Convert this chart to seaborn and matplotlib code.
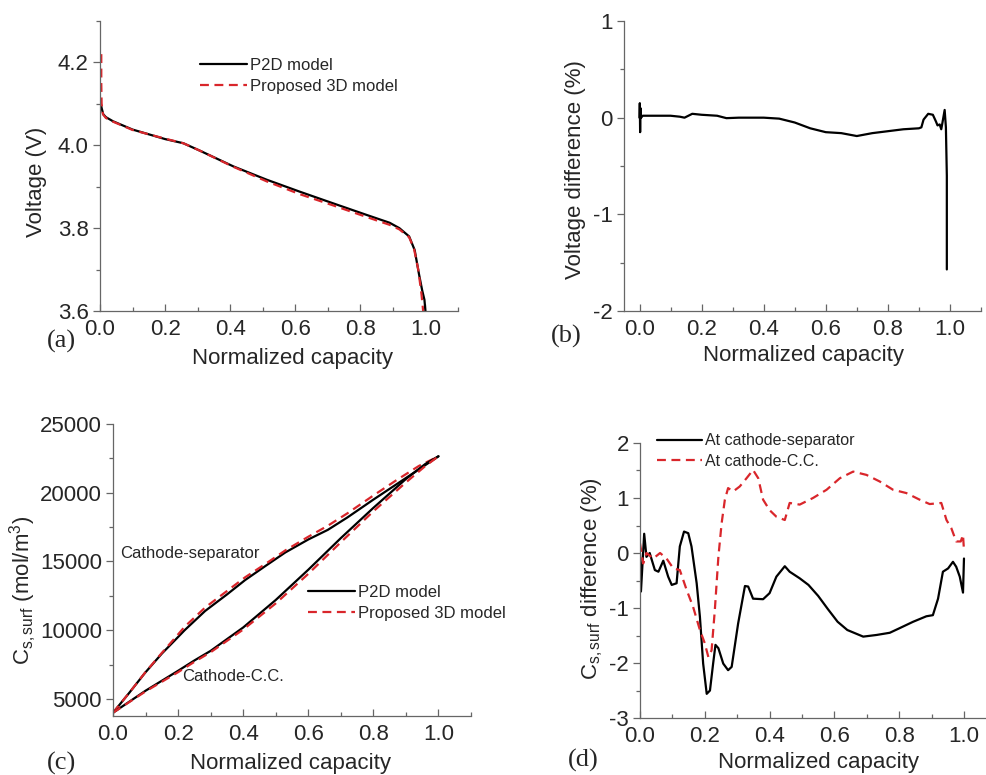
import matplotlib
matplotlib.use("Agg")
import matplotlib.pyplot as plt
from matplotlib.ticker import MultipleLocator, FormatStrFormatter
import seaborn as sns

# (a) discharge voltage
cap_p2d = [0.003, 0.005, 0.01, 0.018, 0.04, 0.1, 0.2, 0.256, 0.307, 0.41, 0.512, 0.614,
           0.716, 0.819, 0.89, 0.92, 0.95, 0.967, 0.98, 0.99, 0.997, 1.0]
volt_p2d = [4.10, 4.09, 4.075, 4.068, 4.058, 4.038, 4.015, 4.005, 3.987, 3.949, 3.917, 3.888,
            3.860, 3.832, 3.813, 3.80, 3.78, 3.747, 3.69, 3.65, 3.627, 3.60]
cap_3d = [0.004, 0.004, 0.005, 0.009, 0.018, 0.04, 0.1, 0.2, 0.256, 0.307, 0.41, 0.512,
          0.614, 0.716, 0.819, 0.89, 0.92, 0.95, 0.965, 0.978, 0.988, 0.993]
volt_3d = [4.22, 4.15, 4.10, 4.075, 4.066, 4.057, 4.037, 4.016, 4.005, 3.987, 3.948, 3.913,
           3.882, 3.855, 3.827, 3.808, 3.797, 3.778, 3.75, 3.70, 3.64, 3.60]

# (b) voltage difference
cap_vdiff = [0, 0.001, 0.002, 0.003, 0.005, 0.01, 0.05, 0.1, 0.13, 0.145, 0.17, 0.2, 0.25,
             0.28, 0.32, 0.4, 0.45, 0.5, 0.55, 0.6, 0.65, 0.7, 0.75, 0.8, 0.85, 0.9, 0.908,
             0.915, 0.93, 0.945, 0.955, 0.96, 0.967, 0.972, 0.976, 0.983, 0.987, 0.99, 0.99]
vdiff = [0, 0.15, -0.15, 0.1, 0.0, 0.02, 0.02, 0.02, 0.01, 0.0, 0.04, 0.03, 0.02,
         -0.005, 0.0, 0.0, -0.01, -0.05, -0.11, -0.15, -0.16, -0.19, -0.16, -0.14, -0.12, -0.11, -0.1,
         -0.02, 0.04, 0.03, -0.04, -0.08, -0.07, -0.12, -0.05, 0.08, -0.1, -0.6, -1.57]

# (c) surface concentration
cap_sep = [0, 0.05, 0.098, 0.15, 0.191, 0.22, 0.283, 0.35, 0.406, 0.47, 0.529, 0.6, 0.66,
           0.72, 0.8, 0.87, 0.94, 1.0]
cs_sep_p2d = [4000, 5450, 6890, 8300, 9290, 10000, 11400, 12600, 13650, 14700, 15650, 16600,
              17300, 18200, 19500, 20600, 21700, 22650]
cs_sep_3d = [4000, 5450, 6900, 8350, 9450, 10250, 11650, 12850, 13850, 14850, 15800, 16800,
             17600, 18500, 19800, 20900, 21950, 22650]
cap_cc = [0, 0.1, 0.2, 0.25, 0.3, 0.4, 0.5, 0.6, 0.7, 0.8, 0.9, 0.96, 1.0]
cs_cc_p2d = [4000, 5600, 7050, 7800, 8500, 10200, 12200, 14400, 16700, 18900, 21000, 22100, 22650]
cs_cc_3d = [4000, 5550, 6950, 7700, 8400, 10050, 11950, 14100, 16400, 18650, 20750, 21950, 22650]

# (d) surface concentration difference
cap_dsep = [0, 0.003, 0.013, 0.02, 0.03, 0.046, 0.057, 0.072, 0.087, 0.098, 0.113, 0.123,
            0.136, 0.149, 0.159, 0.175, 0.185, 0.195, 0.206, 0.216, 0.226, 0.233, 0.242, 0.257,
            0.272, 0.283, 0.303, 0.324, 0.334, 0.349, 0.38, 0.40, 0.421, 0.447, 0.462, 0.493,
            0.52, 0.55, 0.58, 0.61, 0.64, 0.689, 0.73, 0.771, 0.80, 0.843, 0.884, 0.904, 0.92,
            0.935, 0.951, 0.966, 0.976, 0.987, 0.997, 1.0]
dcs_sep = [0, -0.7, 0.35, -0.07, 0.0, -0.31, -0.34, -0.14, -0.43, -0.58, -0.55, 0.12,
           0.39, 0.36, 0.12, -0.55, -1.16, -2.01, -2.56, -2.5, -2.0, -1.67, -1.73, -2.01,
           -2.13, -2.07, -1.28, -0.6, -0.61, -0.83, -0.84, -0.73, -0.43, -0.24, -0.34, -0.46,
           -0.58, -0.78, -1.02, -1.25, -1.40, -1.52, -1.49, -1.45, -1.37, -1.25, -1.15, -1.13, -0.83,
           -0.34, -0.28, -0.16, -0.25, -0.43, -0.72, -0.1]
cap_dcc = [0, 0.01, 0.02, 0.041, 0.062, 0.082, 0.103, 0.123, 0.144, 0.164, 0.185, 0.2, 0.211,
           0.221, 0.231, 0.242, 0.252, 0.262, 0.272, 0.288, 0.308, 0.329, 0.349, 0.365, 0.38,
           0.40, 0.421, 0.447, 0.462, 0.493, 0.534, 0.576, 0.617, 0.658, 0.699, 0.74, 0.781,
           0.822, 0.863, 0.894, 0.93, 0.946, 0.961, 0.976, 0.99, 0.997, 1.0]
dcs_cc = [0.18, -0.19, 0.0, -0.1, 0.0, -0.1, -0.28, -0.31, -0.67, -0.98, -1.40, -1.64, -1.89,
          -1.77, -1.04, -0.07, 0.54, 0.97, 1.18, 1.12, 1.21, 1.36, 1.51, 1.36, 0.97,
          0.78, 0.66, 0.60, 0.91, 0.88, 1.0, 1.15, 1.36, 1.48, 1.42, 1.30, 1.15,
          1.09, 0.97, 0.89, 0.91, 0.60, 0.45, 0.21, 0.21, 0.33, 0.05]

RED = "#d9262b"
GRAY = "#666666"
DASH = (0, (4, 2.5))
TICK_FS = 16
LABEL_FS = 16

sns.set_style("ticks")
plt.rcParams["font.family"] = ["Liberation Sans", "DejaVu Sans"]
plt.rcParams["axes.unicode_minus"] = False
plt.rcParams["mathtext.fontset"] = "custom"
plt.rcParams["mathtext.rm"] = "Liberation Sans"
plt.rcParams["mathtext.it"] = "Liberation Sans:italic"


def style_axis(ax):
    for side in ["top", "right"]:
        ax.spines[side].set_visible(False)
    for side in ["left", "bottom"]:
        ax.spines[side].set_color(GRAY)
        ax.spines[side].set_linewidth(0.9)
    ax.xaxis.set_major_locator(MultipleLocator(0.2))
    ax.xaxis.set_minor_locator(MultipleLocator(0.1))
    ax.xaxis.set_major_formatter(FormatStrFormatter("%.1f"))
    ax.tick_params(axis="x", which="both", direction="in", color=GRAY, labelsize=TICK_FS, pad=6)
    ax.tick_params(axis="y", which="both", direction="out", color=GRAY, labelsize=TICK_FS, pad=3)
    ax.tick_params(which="major", length=5, width=0.9)
    ax.tick_params(which="minor", length=3, width=0.9)


def draw(ax, x, y, color, ls, label=None):
    sns.lineplot(x=x, y=y, ax=ax, color=color, linestyle=ls, linewidth=1.6,
                 sort=False, estimator=None, label=label)


def add_legend(ax, anchor, fs):
    ax.legend(loc="upper left", bbox_to_anchor=anchor, bbox_transform=fig.transFigure,
              frameon=False, fontsize=fs, handlelength=2.8, handletextpad=0.2,
              borderpad=0, borderaxespad=0, labelspacing=0.35)


fig = plt.figure(figsize=(9.87, 7.75), dpi=100)
ax_a = fig.add_axes([0.1013, 0.5987, 0.3627, 0.3742])
ax_b = fig.add_axes([0.6322, 0.5987, 0.3617, 0.3742])
ax_c = fig.add_axes([0.1145, 0.0761, 0.3627, 0.3768])
ax_d = fig.add_axes([0.6484, 0.0735, 0.3611, 0.3549])

# (a)
draw(ax_a, cap_p2d, volt_p2d, "black", "-", "P2D model")
draw(ax_a, cap_3d, volt_3d, RED, DASH, "Proposed 3D model")
style_axis(ax_a)
ax_a.set_xlim(0, 1.1)
ax_a.set_ylim(3.6, 4.3)
ax_a.yaxis.set_major_locator(MultipleLocator(0.2))
ax_a.yaxis.set_minor_locator(MultipleLocator(0.1))
ax_a.yaxis.set_major_formatter(FormatStrFormatter("%.1f"))
ax_a.set_xlabel("Normalized capacity", fontsize=LABEL_FS)
ax_a.set_ylabel("Voltage (V)", fontsize=LABEL_FS)
add_legend(ax_a, (0.2026, 0.925), 12)

# (b)
draw(ax_b, cap_vdiff, vdiff, "black", "-")
style_axis(ax_b)
ax_b.set_xlim(-0.05, 1.1)
ax_b.set_ylim(-2, 1)
ax_b.yaxis.set_major_locator(MultipleLocator(1))
ax_b.yaxis.set_minor_locator(MultipleLocator(0.5))
ax_b.yaxis.set_major_formatter(FormatStrFormatter("%d"))
ax_b.set_xlabel("Normalized capacity", fontsize=LABEL_FS)
ax_b.set_ylabel("Voltage difference (%)", fontsize=LABEL_FS)

# (c)
draw(ax_c, cap_sep, cs_sep_p2d, "black", "-", "P2D model")
draw(ax_c, cap_sep, cs_sep_3d, RED, DASH, "Proposed 3D model")
draw(ax_c, cap_cc, cs_cc_p2d, "black", "-")
draw(ax_c, cap_cc, cs_cc_3d, RED, DASH)
style_axis(ax_c)
ax_c.set_xlim(0, 1.1)
ax_c.set_ylim(3760, 25000)
ax_c.yaxis.set_major_locator(MultipleLocator(5000))
ax_c.yaxis.set_minor_locator(MultipleLocator(2500))
ax_c.yaxis.set_major_formatter(FormatStrFormatter("%d"))
ax_c.set_xlabel("Normalized capacity", fontsize=LABEL_FS)
ax_c.set_ylabel(r"C$_{\rm s,surf}$ (mol/m$^3$)", fontsize=LABEL_FS)
ax_c.text(0.023, 15600, "Cathode-separator", fontsize=12, va="center", ha="left")
ax_c.text(0.212, 6650, "Cathode-C.C.", fontsize=12, va="center", ha="left")
add_legend(ax_c, (0.312, 0.245), 12)

# (d)
draw(ax_d, cap_dsep, dcs_sep, "black", "-", "At cathode-separator")
draw(ax_d, cap_dcc, dcs_cc, RED, DASH, "At cathode-C.C.")
style_axis(ax_d)
ax_d.set_xlim(0, 1.1)
ax_d.set_ylim(-3, 2)
ax_d.yaxis.set_major_locator(MultipleLocator(1))
ax_d.yaxis.set_minor_locator(MultipleLocator(0.5))
ax_d.yaxis.set_major_formatter(FormatStrFormatter("%d"))
ax_d.set_xlabel("Normalized capacity", fontsize=LABEL_FS)
ax_d.set_ylabel(r"C$_{\rm s,surf}$ difference (%)", fontsize=LABEL_FS)
add_legend(ax_d, (0.6657, 0.441), 11.5)

# label positions (figure coords)
ax_a.yaxis.set_label_coords(0.0476, 0.765, transform=fig.transFigure)
ax_a.xaxis.set_label_coords(0.296, 0.551, transform=fig.transFigure)
ax_b.yaxis.set_label_coords(0.594, 0.781, transform=fig.transFigure)
ax_b.xaxis.set_label_coords(0.8136, 0.555, transform=fig.transFigure)
ax_c.yaxis.set_label_coords(0.040, 0.2387, transform=fig.transFigure)
ax_c.xaxis.set_label_coords(0.2948, 0.028, transform=fig.transFigure)
ax_d.yaxis.set_label_coords(0.613, 0.254, transform=fig.transFigure)
ax_d.xaxis.set_label_coords(0.829, 0.030, transform=fig.transFigure)

serif = ["Liberation Serif", "DejaVu Serif"]
for lab, (px, py) in zip(["(a)", "(b)", "(c)", "(d)"],
                         [(0.0618, 0.560), (0.574, 0.566), (0.0628, 0.0155), (0.591, 0.019)]):
    fig.text(px, py, lab, fontsize=19, family=serif, ha="center", va="center")

fig.savefig("out.png", dpi=100)
